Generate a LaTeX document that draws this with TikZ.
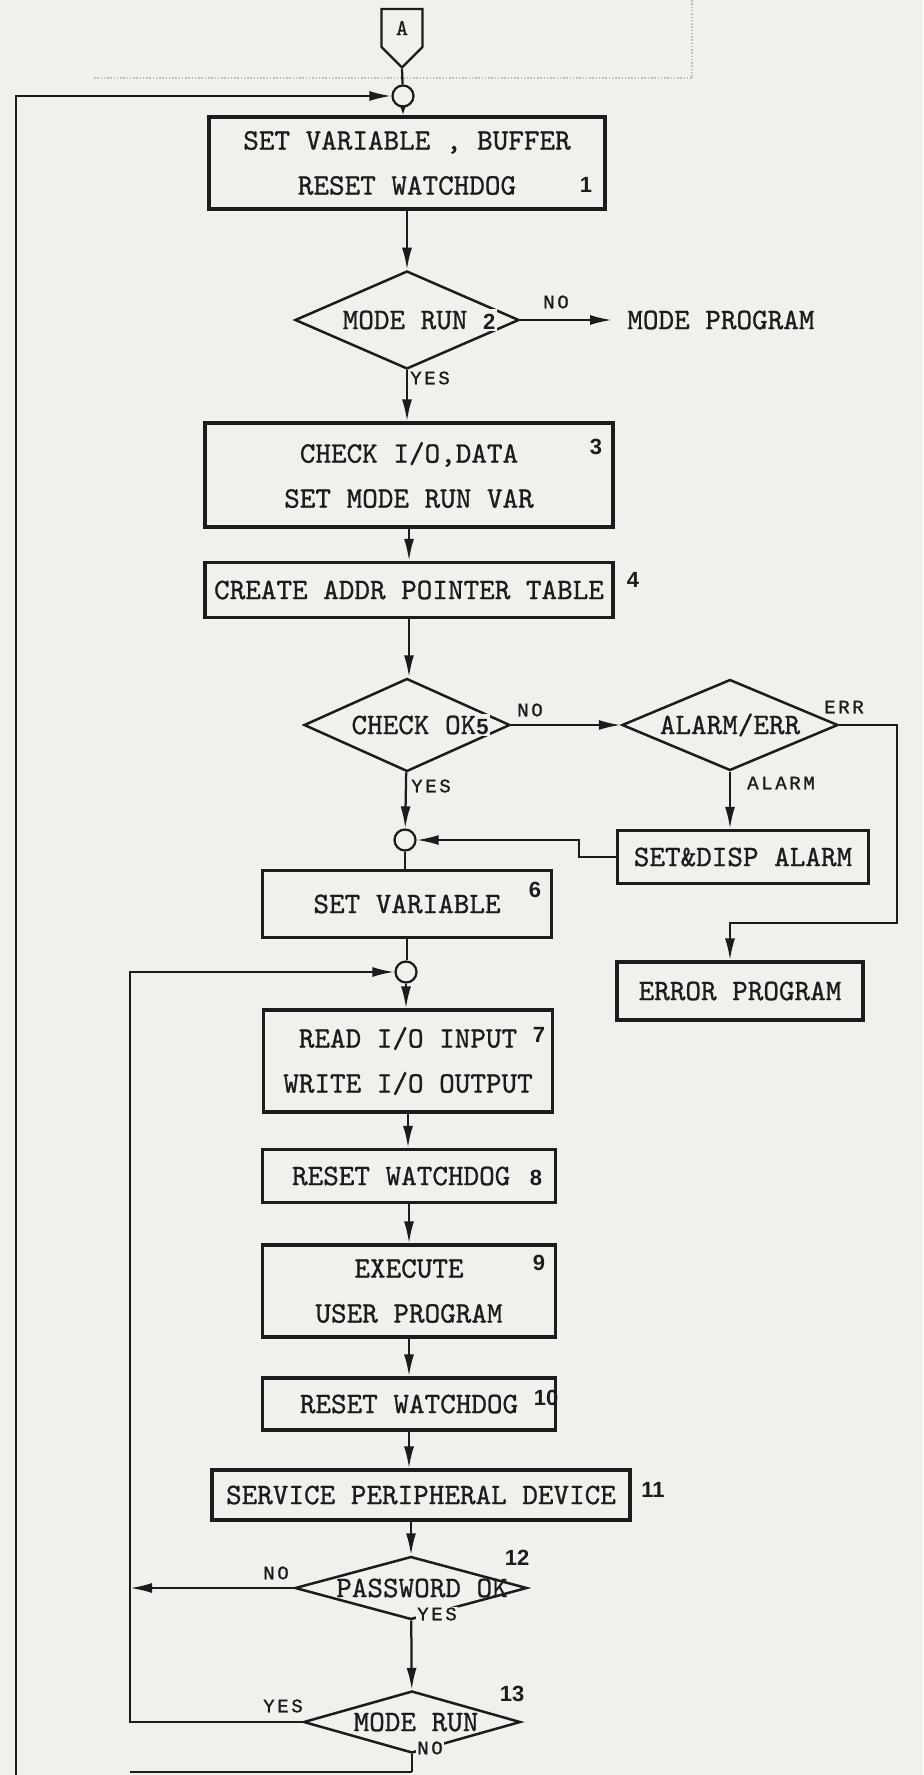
\documentclass[tikz,border=0pt]{standalone}
\usepackage{fontspec}
\usetikzlibrary{arrows.meta, shapes.geometric, shapes.symbols}
\newfontfamily\lblfont[LetterSpace=14, FakeBold=1.2]{Liberation Mono}
\newfontfamily\numfont{Liberation Sans}
\newfontfamily\boxtt{lmmono10-regular}[Extension=.otf, FakeBold=0.9]
\definecolor{paper}{HTML}{F1F0EC}
\definecolor{ink}{HTML}{1C1C1C}
\definecolor{faint}{HTML}{BDBDB8}
\newcommand{\boxfont}{\fontsize{16.9pt}{25.6pt}\selectfont\boxtt}
\newcommand{\lblsize}{\fontsize{10.8pt}{12pt}\selectfont\lblfont}
\newcommand{\numsize}{\fontsize{12.5pt}{14pt}\selectfont\numfont\bfseries}

\tikzset{
  procbox/.style={draw=ink, line width=0.65mm, rectangle, inner sep=0pt, font=\boxfont, align=center, text=ink},
  decision/.style={draw=ink, line width=0.5mm, diamond, inner sep=0pt},
  dectext/.style={font=\boxfont, text=ink, inner sep=1pt},
  joint/.style={draw=ink, line width=0.45mm, circle, inner sep=0pt, minimum size=4.2mm},
  flow/.style={draw=ink, line width=0.45mm},
  shortflow/.style={draw=ink, line width=0.45mm, -{Latex[length=2mm, width=1.4mm]}},
  yesno/.style={font=\lblsize, text=ink, fill=paper, inner sep=0.5pt},
  stepno/.style={font=\numsize, text=ink, inner sep=0pt},
}

\begin{document}
\begin{tikzpicture}[x=0.2mm, y=-0.2mm, >={Latex[length=4.4mm, width=2mm]}]

% Paper
\fill[paper] (0,0) rectangle (923,1775);
\useasboundingbox (0,0) rectangle (923,1775);

% faint trace of the previous page
\draw[faint, densely dotted, line width=0.3mm] (94,78) -- (692,78) -- (692,0);

% Entry connector and first junction
\node[draw=ink, line width=0.45mm, signal, signal to=south, signal from=nowhere,
  minimum width=8.2mm, minimum height=9.2mm, inner sep=0.4mm,
  font=\fontsize{13pt}{14pt}\selectfont\boxtt, text=ink] (A) at (402,28) {A};
\node[joint] (c1) at (403,96) {};

% Start-up part
\node[procbox, minimum width=79.2mm, minimum height=18.4mm] (b1) at (407,163)
  {SET VARIABLE , BUFFER\\RESET WATCHDOG};
\node[stepno] (n1) at (586,185) {1};

\node[decision, minimum width=44.8mm, minimum height=19.6mm,
  label={[dectext, fill=paper, xshift=2.4mm]center:MODE RUN {\numsize 2}}] (d2) at (407,320) {};
\node[font=\boxfont, text=ink, anchor=west, inner sep=0pt] (mp) at (627,320) {MODE PROGRAM};

\node[procbox, minimum width=81.6mm, minimum height=20.8mm] (b3) at (409,475)
  {CHECK I/O,DATA\\SET MODE RUN VAR};
\node[stepno] (n3) at (596,447) {3};

\node[procbox, minimum width=81.6mm, minimum height=11mm] (b4) at (409,590)
  {CREATE ADDR POINTER TABLE};
\node[stepno] (n4) at (633,580) {4};

\node[decision, minimum width=41.2mm, minimum height=18.6mm,
  label={[dectext, fill=paper, xshift=2.6mm]center:CHECK OK{\numsize 5}}] (d5) at (407,725) {};

% Alarm / error branch
\node[decision, minimum width=43.2mm, minimum height=18.2mm,
  label={[dectext]center:ALARM/ERR}] (dae) at (730,725) {};
\node[procbox, minimum width=50.2mm, minimum height=10.6mm] (sda) at (743,857) {SET\&DISP ALARM};
\node[procbox, minimum width=49.2mm, minimum height=11.6mm] (errp) at (740,991) {ERROR PROGRAM};

\node[joint] (c2) at (405,840) {};
\node[procbox, minimum width=57.8mm, minimum height=13.4mm] (b6) at (407,904) {SET VARIABLE};
\node[stepno] (n6) at (535,890) {6};

% Scan loop
\node[joint] (c3) at (406,972) {};
\node[procbox, minimum width=57.8mm, minimum height=20.4mm] (b7) at (408,1061)
  {READ I/O INPUT\\WRITE I/O OUTPUT};
\node[stepno] (n7) at (539,1035) {7};
\node[procbox, minimum width=58.6mm, minimum height=10.6mm] (b8) at (409,1176) {RESET WATCHDOG\phantom{8}};
\node[stepno] (n8) at (536,1178) {8};
\node[procbox, minimum width=58.6mm, minimum height=18.4mm] (b9) at (409,1291)
  {EXECUTE\\USER PROGRAM};
\node[stepno] (n9) at (539,1263) {9};
\node[procbox, minimum width=58.6mm, minimum height=10.4mm] (b10) at (409,1404) {RESET WATCHDOG};
\node[stepno] (n10) at (546,1398) {10};
\node[procbox, minimum width=83.6mm, minimum height=10mm] (b11) at (421,1495)
  {SERVICE PERIPHERAL DEVICE};
\node[stepno] (n11) at (653,1490) {11};

\node[decision, minimum width=46.4mm, minimum height=12.6mm,
  label={[dectext, xshift=2.2mm]center:PASSWORD OK}] (d12) at (411,1588) {};
\node[stepno] (n12) at (517,1558) {12};
\node[decision, minimum width=43.4mm, minimum height=12.4mm,
  label={[dectext, xshift=0.8mm]center:MODE RUN}] (d13) at (412,1722) {};
\node[stepno] (n13) at (512,1694) {13};

% Loop coordinates
\coordinate (outx) at (16,1775);
\coordinate (inx) at (130,1722);
\coordinate (botc) at (412,1772);
\coordinate (jogx) at (579,840);
\coordinate (errturn) at (897,923);

% Connectors
\draw[flow] (A.south) -- (c1);
\draw[flow,->] (outx) |- (c1);
\draw[shortflow] (c1) -- (c1 |- b1.north);
\draw[flow,->] (b1) -- (b1 |- d2.north);
\draw[flow,->, shorten >=3mm] (d2) -- (mp);
\draw[flow,->] (d2) -- (d2 |- b3.north);
\draw[flow,->] (b3) -- (b3 |- b4.north);
\draw[flow,->] (b4) -- (b4 |- d5.north);
\draw[flow,->] (d5) -- (dae);
\draw[flow,->] (d5) -- (c2);
\draw[flow,->] (dae) -- (dae |- sda.north);
\draw[flow,->] (sda) -- (sda -| jogx) |- (c2);
\draw[flow,->] (dae) -| (errturn) -| (dae |- errp.north);
\draw[flow] (c2) -- (c2 |- b6.north);
\draw[flow] (b6) -- (b6 |- c3.north);
\draw[flow,->] (c3) -- (c3 |- b7.north);
\draw[flow,->] (b7) -- (b7 |- b8.north);
\draw[flow,->] (b8) -- (b8 |- b9.north);
\draw[flow,->] (b9) -- (b9 |- b10.north);
\draw[flow,->] (b10) -- (b10 |- b11.north);
\draw[flow,->] (b11.south -| d12) -- (d12);
\draw[flow,->] (d12) -- (d12 -| inx);
\draw[flow,->] (d12) -- (d13);
\draw[flow,->] (d13) -- (inx) |- (c3);
\draw[flow] (d13) -- (botc);
\draw[flow] (inx |- botc) -- (botc);

% Branch labels
\node[yesno] (no2) at (556,302) {NO};
\node[yesno] (yes2) at (430,378) {YES};
\node[yesno] (no5) at (530,710) {NO};
\node[yesno] (yes5) at (431,786) {YES};
\node[yesno] (err) at (844,707) {ERR};
\node[yesno] (alarm) at (781,783) {ALARM};
\node[yesno] (no12) at (276,1573) {NO};
\node[yesno] (yes12) at (437,1614) {YES};
\node[yesno] (yes13) at (283,1706) {YES};
\node[yesno] (no13) at (430,1748) {NO};

\end{tikzpicture}
\end{document}
